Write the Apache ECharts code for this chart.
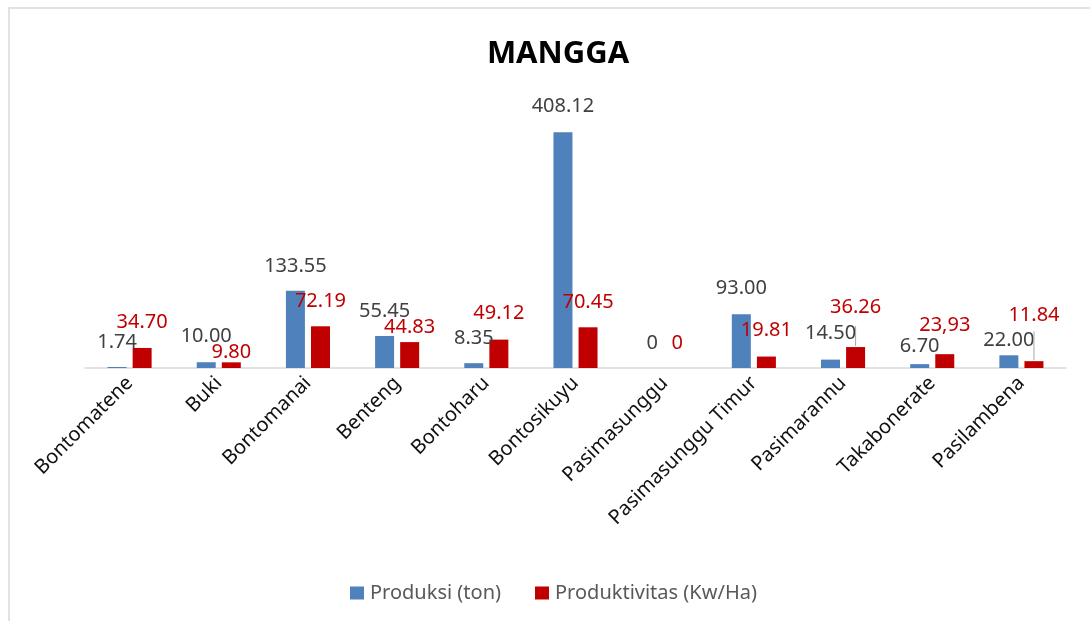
<!DOCTYPE html>
<html>
<head>
<meta charset="utf-8">
<title>MANGGA</title>
<script src="https://cdn.jsdelivr.net/npm/echarts@6/dist/echarts.min.js"></script>
<style>
  html, body { margin: 0; padding: 0; background: #fff; }
  #chart { width: 1090px; height: 621px; }
</style>
</head>
<body>
<div id="chart"></div>
<script>
const categories = ['Bontomatene', 'Buki', 'Bontomanai', 'Benteng', 'Bontoharu', 'Bontosikuyu',
  'Pasimasunggu', 'Pasimasunggu Timur', 'Pasimarannu', 'Takabonerate', 'Pasilambena'];
const produksi = [1.74, 10.00, 133.55, 55.45, 8.35, 408.12, 0, 93.00, 14.50, 6.70, 22.00];
const produktivitas = [34.70, 9.80, 72.19, 44.83, 49.12, 70.45, 0, 19.81, 36.26, 23.93, 11.84];
const produksiText = ['1.74', '10.00', '133.55', '55.45', '8.35', '408.12', '0', '93.00', '14.50', '6.70', '22.00'];
const produktivitasText = ['34.70', '9.80', '72.19', '44.83', '49.12', '70.45', '0', '19.81', '36.26', '23,93', '11.84'];

// label gap above each bar, as placed in the original
const produksiGap = [15, 16, 15, 15, 15, 16, 15, 16, 16, 8, 5];
const produktivitasGap = [16, 0, 15, 5, 16, 15, 15, 16, 1, 19, 1];
// labels pulled away from their bar get a thin leader line
const leaders = { 8: 'a', 10: 'b' };

const font = 'Noto Sans';
const chart = echarts.init(document.getElementById('chart'));

const option = {
  animation: false,
  title: {
    text: 'MANGGA',
    left: 553,
    top: 34,
    textAlign: 'center',
    textStyle: { fontFamily: font, fontSize: 31, fontWeight: 'bold', color: '#000' }
  },
  legend: {
    left: 345,
    top: 578,
    itemWidth: 14,
    itemHeight: 13,
    itemGap: 34,
    icon: 'rect',
    textStyle: { fontFamily: font, fontSize: 20, color: '#595959', padding: [0, 0, 0, 1] },
    data: ['Produksi (ton)', 'Produktivitas (Kw/Ha)']
  },
  graphic: [{
    type: 'rect',
    shape: { x: 9, y: 8, width: 1200, height: 700 },
    style: { fill: 'none', stroke: '#d9d9d9', lineWidth: 1.5 },
    silent: true
  }],
  grid: { left: 85, right: 24, top: 108, bottom: 253 },
  xAxis: {
    type: 'category',
    data: categories,
    axisLine: { lineStyle: { color: '#d9d9d9', width: 1.5 } },
    axisTick: { show: false },
    axisLabel: {
      rotate: 45,
      interval: 0,
      margin: 12,
      fontFamily: font,
      fontSize: 20,
      color: '#111'
    }
  },
  yAxis: {
    type: 'value',
    min: 0,
    max: 450,
    show: false,
    splitLine: { show: false }
  },
  series: [
    {
      name: 'Produksi (ton)',
      type: 'bar',
      barWidth: 19,
      barGap: '32%',
      itemStyle: { color: '#4f81bd' },
      label: {
        show: true,
        position: 'top',
        fontFamily: font,
        fontSize: 20,
        color: '#404040',
        formatter: p => produksiText[p.dataIndex]
      },
      data: produksi.map((v, i) => ({ value: v, label: { distance: produksiGap[i] } }))
    },
    {
      name: 'Produktivitas (Kw/Ha)',
      type: 'bar',
      barWidth: 19,
      itemStyle: { color: '#c00000' },
      label: {
        show: true,
        position: 'top',
        fontFamily: font,
        fontSize: 20,
        color: '#c00000',
        formatter: p => {
          const key = leaders[p.dataIndex];
          const text = produktivitasText[p.dataIndex];
          return key ? '{' + key + '|' + text + '}\n{' + key + 'l|}' : text;
        },
        rich: {
          a: { fontFamily: font, fontSize: 20, color: '#c00000', lineHeight: 38 },
          al: { width: 1, height: 20, backgroundColor: '#a6a6a6' },
          b: { fontFamily: font, fontSize: 20, color: '#c00000', lineHeight: 32 },
          bl: { width: 1, height: 29, backgroundColor: '#a6a6a6' }
        }
      },
      data: produktivitas.map((v, i) => ({ value: v, label: { distance: produktivitasGap[i] } }))
    }
  ]
};

chart.setOption(option);
</script>
</body>
</html>
